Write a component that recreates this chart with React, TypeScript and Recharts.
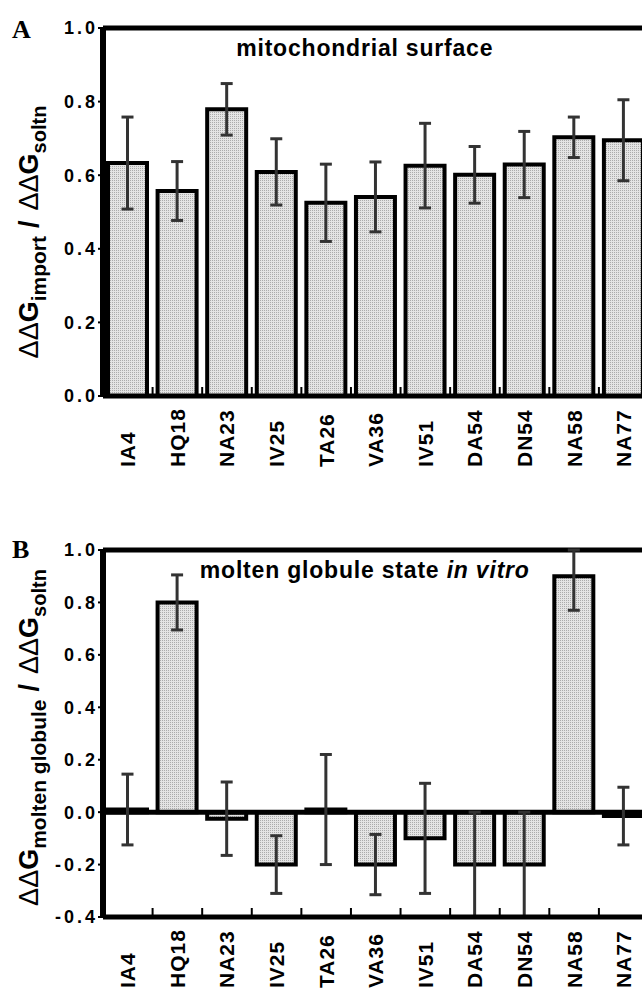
import React from "react";
import { BarChart, Bar, XAxis, YAxis, ErrorBar, ReferenceLine } from "recharts";

const MUTANTS = ["IA4", "HQ18", "NA23", "IV25", "TA26", "VA36", "IV51", "DA54", "DN54", "NA58", "NA77"];

// A: import on the mitochondrial surface
const IMPORT_RATIO = [0.633, 0.557, 0.779, 0.609, 0.525, 0.541, 0.626, 0.601, 0.629, 0.703, 0.695];
const IMPORT_ERR = [0.125, 0.08, 0.07, 0.09, 0.105, 0.095, 0.115, 0.077, 0.09, 0.055, 0.11];

// B: molten globule state in vitro ([below, above]; NA58 runs into the frame)
const MG_RATIO = [0.01, 0.8, -0.025, -0.2, 0.01, -0.2, -0.1, -0.2, -0.2, 0.9, -0.015];
const MG_ERR = [
  [0.135, 0.135], [0.105, 0.105], [0.14, 0.14], [0.11, 0.11], [0.21, 0.21], [0.115, 0.115],
  [0.21, 0.21], [0.2, 0.2], [0.2, 0.2], [0.13, 0.1], [0.11, 0.11],
];

const TICKS_A = [0, 0.2, 0.4, 0.6, 0.8, 1.0];
const TICKS_B = [-0.4, -0.2, 0, 0.2, 0.4, 0.6, 0.8, 1.0];

const dataA = MUTANTS.map((name, i) => ({ name, v: IMPORT_RATIO[i], err: IMPORT_ERR[i] }));
const dataB = MUTANTS.map((name, i) => ({ name, v: MG_RATIO[i], err: MG_ERR[i] }));

const W = 660;
const PLOT_L = 103;
const PLOT_R = 648.5;
const YW = 42;
const BAND = (PLOT_R - PLOT_L) / MUTANTS.length;
const FONT = "'Liberation Sans', Arial, Helvetica, sans-serif";

function MutantTick(props: any) {
  const { x, y, payload } = props;
  const ty = y + 71;
  return (
    <g>
      <line x1={x + BAND / 2} x2={x + BAND / 2} y1={y - 9} y2={y} stroke="#000" strokeWidth={2} />
      <text
        x={x}
        y={ty}
        transform={`rotate(-90 ${x} ${ty})`}
        textAnchor="start"
        dominantBaseline="central"
        fontFamily={FONT}
        fontWeight={700}
        fontSize={21}
        letterSpacing={1}
        fill="#000"
      >
        {payload.value}
      </text>
    </g>
  );
}

function AxisTitle({ cy, sub }: { cy: number; sub: string }) {
  const x = 38;
  const big = { fontSize: 27, fontWeight: 700 } as const;
  const delta = { fontSize: 27, fontWeight: 400 } as const;
  return (
    <text
      x={x}
      y={cy}
      transform={`rotate(-90 ${x} ${cy})`}
      textAnchor="middle"
      fontFamily={FONT}
      fill="#000"
    >
      <tspan {...delta}>ΔΔ</tspan>
      <tspan {...big}>G</tspan>
      <tspan fontSize={21} fontWeight={700} dy={8}>{sub}</tspan>
      <tspan {...big} dy={-8} dx={8}>/</tspan>
      <tspan {...delta} dx={10}>ΔΔ</tspan>
      <tspan {...big}>G</tspan>
      <tspan fontSize={20} fontWeight={700} dy={8}>soltn</tspan>
    </text>
  );
}

function Panel({ id, data, domain, ticks, plotH, sub, title, zeroLine, labelShift }: any) {
  const height = 28 + plotH + 72;
  return (
    <BarChart
      width={W}
      height={height}
      data={data}
      margin={{ top: 28, right: W - PLOT_R, left: PLOT_L - YW, bottom: 0 }}
      barSize={39}
    >
      <defs>
        <pattern id={id} width="2" height="2" patternUnits="userSpaceOnUse">
          <rect width="2" height="2" fill="#e4e4e4" />
          <rect width="1" height="1" fill="#ababab" />
        </pattern>
      </defs>
      <XAxis
        dataKey="name"
        interval={0}
        height={72}
        tickSize={0}
        tickMargin={0}
        tickLine={false}
        axisLine={{ stroke: "#000", strokeWidth: 5 }}
        tick={<MutantTick />}
      />
      <YAxis
        width={YW}
        domain={domain}
        ticks={ticks}
        allowDataOverflow
        tickFormatter={(v: number) => v.toFixed(1)}
        tickSize={5}
        tickMargin={0}
        tickLine={{ stroke: "#000", strokeWidth: 2 }}
        axisLine={{ stroke: "#000", strokeWidth: 6 }}
        tick={{ fill: "#000", fontSize: 18, fontWeight: 700, fontFamily: FONT, letterSpacing: 3 }}
        label={{
          content: (p: any) => {
            const vb = p.viewBox || { y: 28, height: plotH };
            return <AxisTitle cy={vb.y + vb.height / 2 + labelShift} sub={sub} />;
          },
        }}
      />
      <ReferenceLine
        y={domain[1]}
        stroke="#000"
        strokeWidth={5}
        label={{
          content: (p: any) => {
            const vb = p.viewBox;
            const cx = vb.x + vb.width / 2 - 11;
            return (
              <text
                x={cx}
                y={vb.y + 28}
                textAnchor="middle"
                fontFamily={FONT}
                fontWeight={700}
                fontSize={23}
                letterSpacing={0.8}
                fill="#000"
              >
                {title}
              </text>
            );
          },
        }}
      />
      {zeroLine && <ReferenceLine y={0} stroke="#000" strokeWidth={5} />}
      <Bar dataKey="v" fill={`url(#${id})`} stroke="#000" strokeWidth={4} isAnimationActive={false}>
        <ErrorBar dataKey="err" direction="y" width={6} stroke="#333" strokeWidth={3} />
      </Bar>
    </BarChart>
  );
}

const letterStyle: React.CSSProperties = {
  position: "absolute",
  left: 12,
  fontFamily: "'Liberation Serif', 'Times New Roman', serif",
  fontWeight: 700,
  fontSize: 26,
  lineHeight: 1,
};

export default function App() {
  return (
    <div style={{ position: "absolute", left: 0, top: 0, width: 642, height: 989, overflow: "hidden", background: "#fff" }}>
      <div style={{ position: "absolute", left: 0, top: 0 }}>
        <Panel
          id="dotsA"
          data={dataA}
          domain={[0, 1]}
          ticks={TICKS_A}
          plotH={368}
          sub="import"
          labelShift={20}
          title={"mitochondrial surface"}
        />
      </div>
      <div style={{ position: "absolute", left: 0, top: 522 }}>
        <Panel
          id="dotsB"
          data={dataB}
          domain={[-0.4, 1]}
          ticks={TICKS_B}
          plotH={367}
          sub="molten globule"
          labelShift={4}
          zeroLine
          title={
            <>
              molten globule state <tspan fontStyle="italic">in vitro</tspan>
            </>
          }
        />
      </div>
      <div style={{ ...letterStyle, top: 17 }}>A</div>
      <div style={{ ...letterStyle, top: 537 }}>B</div>
    </div>
  );
}
